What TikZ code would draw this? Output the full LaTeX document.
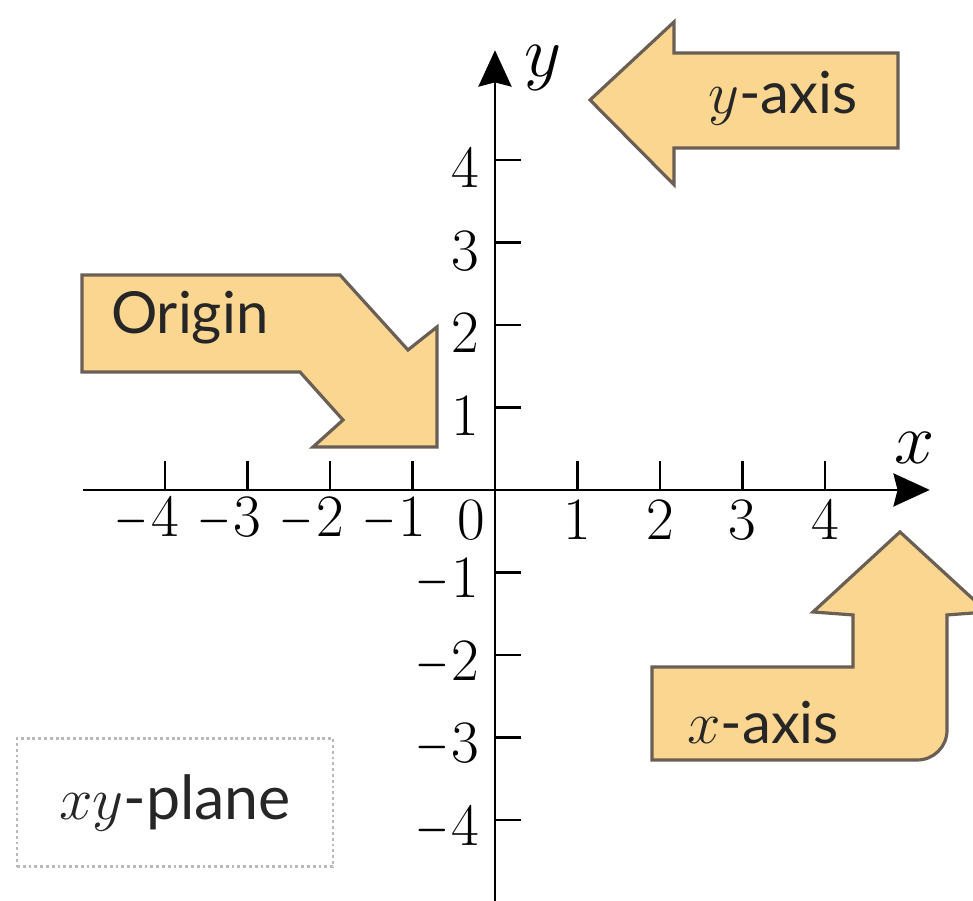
\documentclass[tikz,border=0pt]{standalone}
\usepackage{fontspec}
\setsansfont{Lato}
\usepackage{graphicx}
\usepackage{tikz}
\usetikzlibrary{arrows.meta}
\definecolor{calloutfill}{RGB}{251,214,145}
\definecolor{calloutline}{RGB}{105,95,85}
\newcommand{\nminus}{\scalebox{0.72}[1]{$-$}}
\tikzset{
  axis/.style={line width=1pt, ->},
  tickmark/.style={line width=0.8pt},
  ticklabel/.style={font=\fontsize{21}{25}\selectfont, inner sep=0pt},
  axislabel/.style={font=\fontsize{24}{28}\selectfont, inner sep=0pt},
  callout/.style={draw=calloutline, fill=calloutfill, line width=1.1pt, line join=miter},
  callouttext/.style={font=\sffamily\fontsize{20}{24}\selectfont, inner sep=0pt, text=black!85},
  planebox/.style={draw=gray!55, densely dotted, line width=1pt, minimum width=3.83cm,
                   minimum height=1.56cm, font=\sffamily\fontsize{21}{25}\selectfont, text=black!85},
}

\begin{document}
\begin{tikzpicture}[>={Stealth[length=4.4mm,width=4mm,inset=0.5mm]}]
    \useasboundingbox (-6.0,-4.982) rectangle (5.794,5.939);
    % callout arrows
    \begin{scope}
      \clip (-6.0,-4.982) rectangle (5.794,5.939);
      \draw[callout] (1.152,4.727) -- (2.17,5.673) -- (2.17,5.297) -- (4.885,5.297)
        -- (4.885,4.145) -- (2.17,4.145) -- (2.17,3.70) -- cycle;
      \draw[callout] (-5.006,2.606) -- (-1.879,2.606) -- (-1.055,1.697) -- (-0.703,1.976)
        -- (-0.703,0.521) -- (-2.206,0.521) -- (-1.842,0.848) -- (-2.364,1.430)
        -- (-5.006,1.430) -- cycle;
      \draw[callout] (4.909,-0.509) -- (5.964,-1.479) -- (5.479,-1.515) -- (5.479,-2.913)
        arc[start angle=0, end angle=-90, radius=0.36] -- (1.903,-3.273) -- (1.903,-2.145)
        -- (4.339,-2.145) -- (4.339,-1.515) -- (3.855,-1.479) -- cycle;
    \end{scope}
    \node[callouttext] (yaxistext) at (3.49,4.75) {$y$-axis};
    \node[callouttext] (origintext) at (-3.70,2.085) {Origin};
    \node[callouttext] (xaxistext) at (3.25,-2.82) {$x$-axis};
    \node[planebox] (plane) at (-3.879,-3.788) {$xy$-plane};
    % axes
    \coordinate (xstart) at (-4.99,0);
    \coordinate (xend) at (5.27,0);
    \coordinate (ystart) at (0,-4.982);
    \coordinate (yend) at (0,5.33);
    \draw[axis] (xstart) -- (xend);
    \draw[axis] (ystart) -- (yend);
    \node[axislabel] (xlab) at (5.09,0.51) {$x$};
    \node[axislabel] (ylab) at (0.58,5.12) {$y$};
    \foreach \i in {1,...,4} {
      \draw[tickmark] (\i,0) -- (\i,0.35);
      \draw[tickmark] (-\i,0) -- (-\i,0.35);
      \draw[tickmark] (0,\i) -- (0.32,\i);
      \draw[tickmark] (0,-\i) -- (0.32,-\i);
      \node[ticklabel] (xp\i) at (\i,-0.36) {$\i$};
      \node[ticklabel] (xm\i) at (-\i,-0.36) {\llap{\nminus\kern1pt}$\i$};
      \node[ticklabel, anchor=east] (yp\i) at (-0.18,\i-0.1) {$\i$};
      \node[ticklabel, anchor=east] (ym\i) at (-0.18,-\i-0.1) {\nminus\kern1pt$\i$};
    }
    \node[ticklabel] (zero) at (-0.29,-0.36) {$0$};
  \end{tikzpicture}
\end{document}
